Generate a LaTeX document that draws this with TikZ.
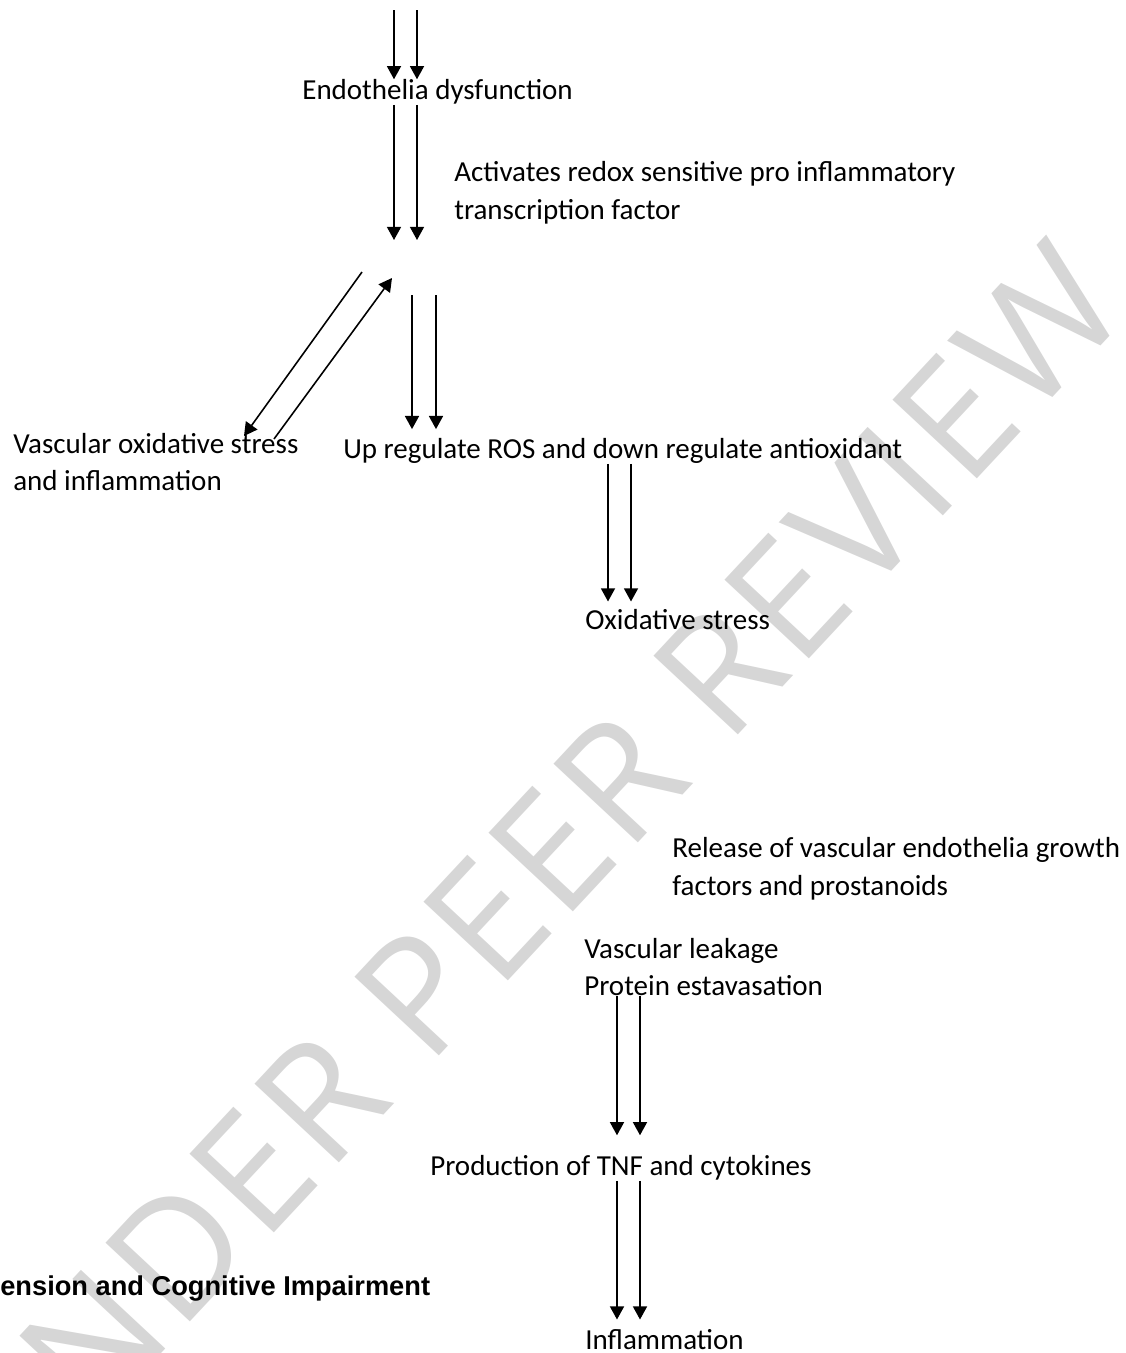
\documentclass[tikz,border=0pt]{standalone}
\usepackage{fontspec}
\setmainfont{Carlito}
\newfontfamily\headfont{Liberation Sans}
\newfontfamily\markfont[LetterSpace=3]{Open Sans}
\usetikzlibrary{arrows.meta}

\tikzset{
  txt/.style={anchor=west, inner sep=0pt, align=left, font=\fontsize{16.5}{21.5}\selectfont},
  flow/.style={line width=0.9pt, -{Triangle[width=8pt,length=7.5pt]}},
  stamp/.style={rotate=47, text=black!16, font=\markfont\fontsize{92}{92}\selectfont}
}

\begin{document}
\begin{tikzpicture}[x=0.02cm,y=-0.02cm]
\useasboundingbox (0,0) rectangle (1126,1353);

% watermark
\node[stamp] (mark) at (530,875) {UNDER PEER REVIEW};

% texts
\node[txt] (endo) at (302,92) {Endothelia dysfunction};
\node[txt] (redox) at (454,193) {Activates redox sensitive pro inflammatory\\transcription factor};
\node[txt] (vasc) at (13,462) {Vascular oxidative stress\\and inflammation};
\node[txt] (ros) at (343,451) {Up regulate ROS and down regulate antioxidant};
\node[txt] (oxid) at (585,620) {Oxidative stress};
\node[txt] (vegf) at (672,869) {Release of vascular endothelia growth\\factors and prostanoids};
\node[txt] (leak) at (584,967) {Vascular leakage\\Protein estavasation};
\node[txt] (tnf) at (430,1168) {Production of TNF and cytokines};
\node[txt] (infl) at (585,1340) {Inflammation};
\node[txt, font=\headfont\bfseries\fontsize{15.5}{18}\selectfont] (title) at (0,1289) {ension and Cognitive Impairment};

% free ends
\coordinate (inA) at (394,10);
\coordinate (inB) at (417,10);
\coordinate (hubA) at (394,240);
\coordinate (hubB) at (417,240);
\coordinate (upA) at (362,272);
\coordinate (lowA) at (244,436);
\coordinate (lowB) at (274,439);
\coordinate (upB) at (392,278);
\coordinate (nfA) at (412,295);
\coordinate (nfB) at (436,295);

% arrows
\draw[flow] (inA) -- (inA |- endo.north);
\draw[flow] (inB) -- (inB |- endo.north);
\draw[flow] (hubA |- endo.south) -- (hubA);
\draw[flow] (hubB |- endo.south) -- (hubB);

\draw[flow] (upA) -- (lowA);
\draw[flow] (lowB) -- (upB);

\draw[flow, shorten >=0.18cm] (nfA) -- (nfA |- ros.north);
\draw[flow, shorten >=0.18cm] (nfB) -- (nfB |- ros.north);

\draw[flow, shorten >=0.16cm] (608,0 |- ros.south) -- (608,0 |- oxid.north);
\draw[flow, shorten >=0.16cm] (631,0 |- ros.south) -- (631,0 |- oxid.north);

\draw[flow, shorten >=0.4cm] (617,0 |- leak.south) -- (617,0 |- tnf.north);
\draw[flow, shorten >=0.4cm] (640,0 |- leak.south) -- (640,0 |- tnf.north);

\draw[flow, shorten >=0.2cm] (617,0 |- tnf.south) -- (617,0 |- infl.north);
\draw[flow, shorten >=0.2cm] (640,0 |- tnf.south) -- (640,0 |- infl.north);

\end{tikzpicture}
\end{document}
